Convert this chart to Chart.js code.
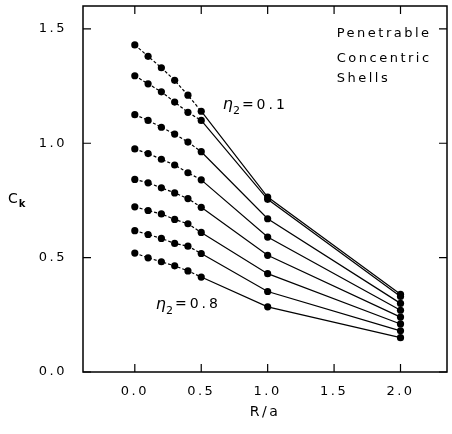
<!DOCTYPE html>
<html>
<head>
<meta charset="utf-8">
<script src="https://cdn.jsdelivr.net/npm/chart.js@4"></script>
<style>
  html, body { margin: 0; padding: 0; background: #fff; }
  #wrap { width: 452px; height: 434px; }
</style>
</head>
<body>
<div id="wrap"><canvas id="c" width="452" height="434"></canvas></div>
<script>
// R/a positions where C_k was computed
const rOverA = [0, 0.1, 0.2, 0.3, 0.4, 0.5, 1.0, 2.0];

// C_k for each eta_2 (top curve eta_2 = 0.1, bottom curve eta_2 = 0.8)
const eta01 = [1.43, 1.38, 1.33, 1.275, 1.21, 1.14, 0.765, 0.34];
const eta02 = [1.295, 1.26, 1.225, 1.18, 1.135, 1.10, 0.755, 0.33];
const eta03 = [1.125, 1.10, 1.07, 1.04, 1.005, 0.963, 0.67, 0.30];
const eta04 = [0.975, 0.955, 0.93, 0.905, 0.871, 0.84, 0.59, 0.27];
const eta05 = [0.842, 0.827, 0.805, 0.783, 0.758, 0.72, 0.51, 0.24];
const eta06 = [0.722, 0.706, 0.691, 0.667, 0.648, 0.61, 0.43, 0.21];
const eta07 = [0.618, 0.601, 0.584, 0.562, 0.55, 0.518, 0.352, 0.18];
const eta08 = [0.52, 0.499, 0.482, 0.464, 0.442, 0.415, 0.285, 0.15];

const xTicks = [0, 0.5, 1, 1.5, 2];
const yTicks = [0, 0.5, 1, 1.5];

const FONT = '"DejaVu Sans", sans-serif';
const SPACING = '2.5px';

function makeDataset(values) {
    return {
        data: values.map((v, i) => ({ x: rOverA[i], y: v })),
        borderColor: '#000',
        backgroundColor: '#000',
        borderWidth: 1.2,
        pointRadius: 3.6,
        pointBorderWidth: 0,
        pointBackgroundColor: '#000',
        tension: 0,
        fill: false,
        segment: {
            // the short-range part (R/a <= 0.5) is dashed
            borderDash: ctx => ctx.p1.parsed.x <= 0.5001 ? [3, 2] : undefined
        }
    };
}

// frame, inward ticks and text labels
const decor = {
    id: 'decor',
    beforeDraw(chart) {
        chart.ctx.letterSpacing = SPACING;
    },
    afterDraw(chart) {
        const { ctx, chartArea: a } = chart;
        const xs = chart.scales.x, ys = chart.scales.y;
        ctx.save();
        ctx.strokeStyle = '#000';
        ctx.lineWidth = 1.5;
        ctx.strokeRect(a.left, a.top, a.right - a.left, a.bottom - a.top);

        ctx.lineWidth = 1.2;
        const len = 8;
        ctx.beginPath();
        xTicks.forEach(v => {
            const px = xs.getPixelForValue(v);
            ctx.moveTo(px, a.bottom); ctx.lineTo(px, a.bottom - len);
            ctx.moveTo(px, a.top); ctx.lineTo(px, a.top + len);
        });
        yTicks.forEach(v => {
            const py = ys.getPixelForValue(v);
            ctx.moveTo(a.left, py); ctx.lineTo(a.left + len, py);
            ctx.moveTo(a.right, py); ctx.lineTo(a.right - len, py);
        });
        ctx.stroke();

        ctx.fillStyle = '#000';
        ctx.letterSpacing = SPACING;
        ctx.textBaseline = 'middle';
        ctx.textAlign = 'left';

        // box label
        ctx.font = '13px ' + FONT;
        const box = [['Penetrable', 1.52, 1.478], ['Concentric', 1.52, 1.368], ['Shells', 1.52, 1.281]];
        box.forEach(([t, x, y]) => ctx.fillText(t, xs.getPixelForValue(x), ys.getPixelForValue(y)));

        // curve labels with subscript
        function subLabel(main, sub, rest, px, py) {
            ctx.letterSpacing = '1px';
            ctx.font = 'italic 16px ' + FONT;
            ctx.fillText(main, px, py);
            let w = ctx.measureText(main).width;
            ctx.font = '11px ' + FONT;
            ctx.fillText(sub, px + w - 1, py + 6);
            w += ctx.measureText(sub).width;
            ctx.letterSpacing = '3px';
            ctx.font = '14px ' + FONT;
            ctx.fillText(rest, px + w, py);
        }
        subLabel('\u03b7', '2', '=0.1', xs.getPixelForValue(0.662), ys.getPixelForValue(1.167));
        subLabel('\u03b7', '2', '=0.8', xs.getPixelForValue(0.158), ys.getPixelForValue(0.294));

        // y axis title C_k
        const cy = ys.getPixelForValue(0.755);
        ctx.letterSpacing = '0px';
        ctx.font = '14px ' + FONT;
        ctx.fillText('C', 8, cy);
        const cw = ctx.measureText('C').width;
        ctx.font = 'bold 10px ' + FONT;
        ctx.fillText('k', 8 + cw + 1, cy + 5);
        ctx.restore();
    }
};

const chart = new Chart(document.getElementById('c'), {
    type: 'line',
    data: {
        datasets: [eta01, eta02, eta03, eta04, eta05, eta06, eta07, eta08].map(makeDataset)
    },
    options: {
        responsive: false,
        animation: false,
        devicePixelRatio: 1,
        layout: { padding: { top: 6, right: 5, left: 0, bottom: 0 } },
        plugins: { legend: { display: false }, tooltip: { enabled: false } },
        scales: {
            x: {
                type: 'linear',
                min: -0.39,
                max: 2.35,
                afterBuildTicks: s => { s.ticks = xTicks.map(v => ({ value: v })); },
                afterFit: s => { s.height = 62; s.paddingLeft = 0; s.paddingRight = 0; },
                grid: { display: false },
                border: { display: false },
                ticks: {
                    callback: v => v.toFixed(1),
                    color: '#000',
                    padding: 4,
                    maxRotation: 0,
                    autoSkip: false,
                    font: { family: FONT, size: 13 }
                },
                title: {
                    display: true,
                    text: 'R/a',
                    color: '#000',
                    padding: { top: 0, bottom: 13 },
                    font: { family: FONT, size: 14 }
                }
            },
            y: {
                min: 0,
                max: 1.6,
                afterBuildTicks: s => { s.ticks = yTicks.map(v => ({ value: v })); },
                afterFit: s => { s.width = 83; s.paddingTop = 0; s.paddingBottom = 0; },
                grid: { display: false },
                border: { display: false },
                ticks: {
                    callback: v => v.toFixed(1),
                    color: '#000',
                    padding: 8,
                    font: { family: FONT, size: 13 }
                }
            }
        }
    },
    plugins: [decor]
});
</script>
</body>
</html>
